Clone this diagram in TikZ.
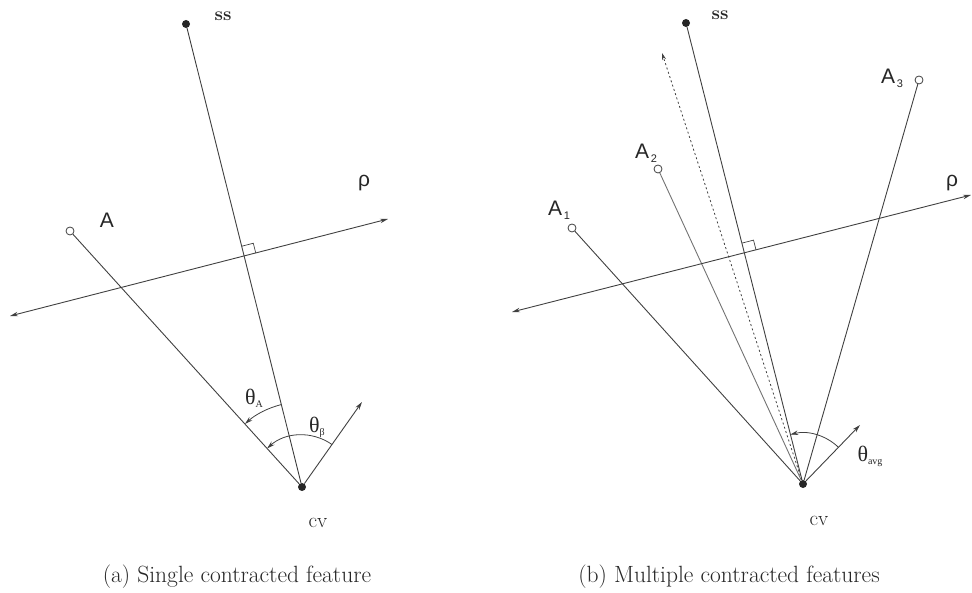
\documentclass[tikz,border=0pt]{standalone}
\usepackage{fontspec}
\newfontfamily\sanslab{Liberation Sans}
\newfontfamily\serlab{Liberation Serif}
\usetikzlibrary{arrows.meta,calc}
\newcommand{\thsub}[1]{{\serlab\fontsize{22}{24}\selectfont θ}\raisebox{-3pt}{\serlab\fontsize{10}{12}\selectfont #1}}
\newcommand{\asub}[1]{A\raisebox{-4pt}{\fontsize{11}{12}\selectfont\,#1}}
\tikzset{
 ln/.style={draw=black!75, line width=0.9pt},
 tip/.style={-{Stealth[length=8pt,width=4.5pt]}},
 tips/.style={{Stealth[length=8pt,width=4.5pt]}-{Stealth[length=8pt,width=4.5pt]}},
 sdot/.style={circle, fill=black!85, inner sep=0pt, minimum size=8pt},
 odot/.style={circle, draw=black!75, fill=white, line width=0.8pt, inner sep=0pt, minimum size=8pt},
 lab/.style={inner sep=0pt, text=black!85},
 sslab/.style={lab, font=\fontsize{19}{22}\selectfont\bfseries},
 cvlab/.style={lab, font=\fontsize{21}{24}\selectfont},
 alab/.style={lab, font=\sanslab\fontsize{21}{24}\selectfont},
 thlab/.style={lab},
 caplab/.style={lab, font=\fontsize{23.5}{28}\selectfont, anchor=base},
 rtbox/.style={draw=black!75, line width=0.7pt},
}
\begin{document}
\begin{tikzpicture}[x=1pt,y=-1pt]
\useasboundingbox (0,0) rectangle (972,593);
% ---------- left panel ----------
\node[sdot] (ssL) at (186,24) {};
\node[sdot] (cvL) at (302,487) {};
\node[odot] (AL) at (70,231) {};
\coordinate (rLl) at (10,316);
\coordinate (rLr) at (388,219);
\coordinate (vL) at (362,402);
\draw[ln] (ssL) -- (cvL);
\draw[ln] (AL) -- (cvL);
\draw[ln,tips] (rLl) -- (rLr);
\draw[ln,tip] (cvL) -- (vL);
\coordinate (pL) at (intersection of rLl--rLr and ssL.center--cvL.center);
\draw[rtbox] ($(pL)!12pt!(rLr)$) -- ($(pL)!12pt!(rLr) + (pL)!10pt!(ssL.center) - (pL)$) -- ($(pL)!10pt!(ssL.center)$);
\draw[ln,line width=0.8pt,tip] ($(cvL.center)!85pt!(ssL.center)$) arc[start angle=-104.07, end angle=-132.18, radius=85];
\draw[ln,line width=0.8pt,tip] ($(cvL.center)!52pt!(vL)$) arc[start angle=-54.78, end angle=-132.18, radius=52];
\node[sslab] (ssLt) at (223,16) {ss};
\node[cvlab] (cvLt) at (318,523) {cv};
\node[alab] (ALt) at (107,220) {A};
\node[alab] (rhoL) at (364,183) {ρ};
\node[thlab] (thA) at (254,398) {\thsub{A}};
\node[thlab] (thB) at (317,427) {\thsub{β}};
\node[caplab] (capA) at (237,582) {(a) Single contracted feature};
% ---------- right panel ----------
\node[sdot] (ssR) at (686,23) {};
\node[sdot] (cvR) at (803,484) {};
\node[odot] (A1) at (572,228) {};
\node[odot] (A2) at (658,169) {};
\node[odot] (A3) at (919,80) {};
\coordinate (rRl) at (512,312);
\coordinate (rRr) at (971,195);
\coordinate (vR) at (860,425);
\coordinate (dR) at (662,53);
\draw[ln] (ssR) -- (cvR);
\draw[ln] (A1) -- (cvR);
\draw[ln,draw=black!55] (A2) -- (cvR);
\draw[ln] (A3) -- (cvR);
\draw[ln,tips] (rRl) -- (rRr);
\draw[ln,tip] (cvR) -- (vR);
\draw[ln,line width=0.8pt,dash pattern=on 2pt off 2.5pt,-{Stealth[length=7pt,width=4pt]}] (cvR) -- (dR);
\coordinate (pR) at (intersection of rRl--rRr and ssR.center--cvR.center);
\draw[rtbox] ($(pR)!12pt!(rRr)$) -- ($(pR)!12pt!(rRr) + (pR)!10pt!(ssR.center) - (pR)$) -- ($(pR)!10pt!(ssR.center)$);
\draw[ln,line width=0.8pt,tip] ($(cvR.center)!51pt!(vR)$) arc[start angle=-45.98, end angle=-104.5, radius=51];
\node[sslab] (ssRt) at (720,15) {ss};
\node[cvlab] (cvRt) at (819,521) {cv};
\node[alab] (A1t) at (559,210) {\asub{1}};
\node[alab] (A2t) at (646,153) {\asub{2}};
\node[alab] (A3t) at (892,78) {\asub{3}};
\node[alab] (rhoR) at (952,183) {ρ};
\node[thlab] (thavg) at (870,456) {\thsub{avg}};
\node[caplab] (capB) at (729,582) {(b) Multiple contracted features};
\end{tikzpicture}
\end{document}
